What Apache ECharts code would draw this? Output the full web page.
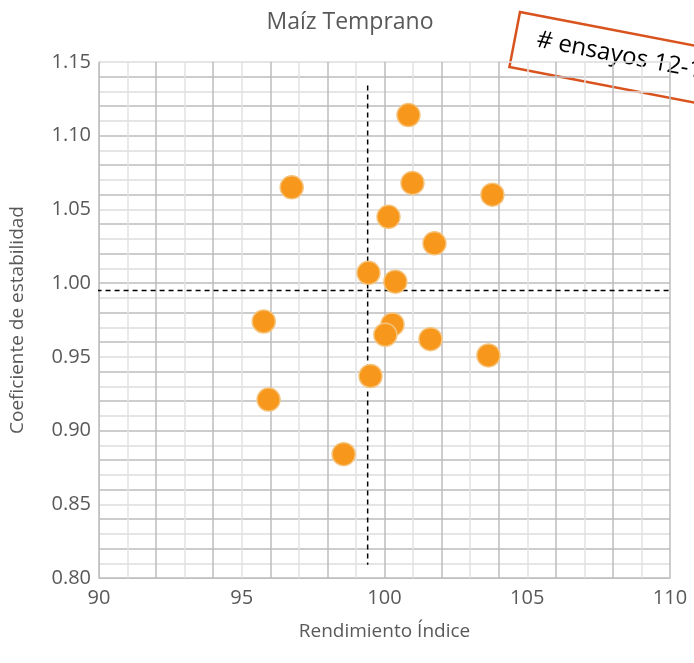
<!DOCTYPE html>
<html><head><meta charset="utf-8">
<script src="https://cdn.jsdelivr.net/npm/echarts@6/dist/echarts.min.js"></script>
<style>html,body{margin:0;background:#fff}#c{width:694px;height:663px}</style>
</head><body><div id="c"></div>
<script>
const rendimiento = [100.84, 96.75, 100.98, 103.78, 100.14, 101.75, 99.44, 100.38, 95.77, 100.28, 100.03, 101.61, 103.64, 99.51, 95.94, 98.57];
const estabilidad = [1.114, 1.065, 1.068, 1.060, 1.045, 1.027, 1.007, 1.001, 0.974, 0.972, 0.965, 0.962, 0.951, 0.937, 0.921, 0.884];
const meanX = 99.41, meanY = 0.995;
const vLine = [[meanX, 1.134], [meanX, 0.809]];
const hLine = [[89.6, meanY], [110, meanY]];
const font = "'Open Sans', sans-serif";

const chart = echarts.init(document.getElementById("c"));
chart.setOption({
  animation: false,
  title: { text: "Maíz Temprano", left: 345, top: 6, textAlign: "center",
    textStyle: { fontFamily: font, fontSize: 23, fontWeight: "normal", color: "#595959" } },
  grid: { left: 98, right: 24, top: 62, bottom: 85 },
  xAxis: {
    type: "value", min: 90, max: 110, interval: 1,
    name: "Rendimiento Índice", nameLocation: "middle", nameGap: 44,
    nameTextStyle: { fontFamily: font, fontSize: 19, color: "#595959" },
    axisLine: { lineStyle: { color: "#bfbfbf" } }, axisTick: { show: false },
    axisLabel: { fontFamily: font, fontSize: 20, color: "#595959", margin: 10,
      formatter: v => (Math.round(v) % 5 === 0 ? String(Math.round(v)) : "") },
    splitLine: { lineStyle: { color: ["#bdbdbd", "#e2e2e2"], width: 1.5 } }
  },
  yAxis: {
    type: "value", min: 0.8, max: 1.15, interval: 0.01,
    name: "Coeficiente de estabilidad", nameLocation: "middle", nameGap: 72,
    nameTextStyle: { fontFamily: font, fontSize: 19, color: "#595959" },
    axisLine: { show: true, lineStyle: { color: "#bfbfbf" } }, axisTick: { show: false },
    axisLabel: { fontFamily: font, fontSize: 20, color: "#595959", margin: 8,
      formatter: v => (Math.round(v * 100) % 5 === 0 ? v.toFixed(2) : "") },
    splitLine: { lineStyle: { color: ["#bdbdbd", "#dcdcdc"], width: 1.5 } }
  },
  series: [
    { type: "line", data: vLine, symbol: "none", lineStyle: { color: "#000", type: [5, 4], width: 1.5 }, z: 3 },
    { type: "line", data: hLine, symbol: "none", lineStyle: { color: "#000", type: [5, 4], width: 1.5 }, z: 3 },
    { type: "scatter", data: rendimiento.map((x, i) => [x, estabilidad[i]]), symbolSize: 23,
      itemStyle: { color: "#f7981d", borderColor: "#f5c47e", borderWidth: 1.5, opacity: 1 }, z: 4 }
  ],
  graphic: [{
    type: "group", x: 520, y: 12, rotation: -0.19,
    children: [
      { type: "rect", shape: { x: 0, y: 0, width: 260, height: 56 },
        style: { fill: "#fff", stroke: "#d9531e", lineWidth: 2.5 } },
      { type: "text", x: 22, y: 12, style: { text: "# ensayos 12-18", fontFamily: "'Open Sans', sans-serif",
        fontSize: 24, fill: "#000" } }
    ]
  }]
});
</script></body></html>
